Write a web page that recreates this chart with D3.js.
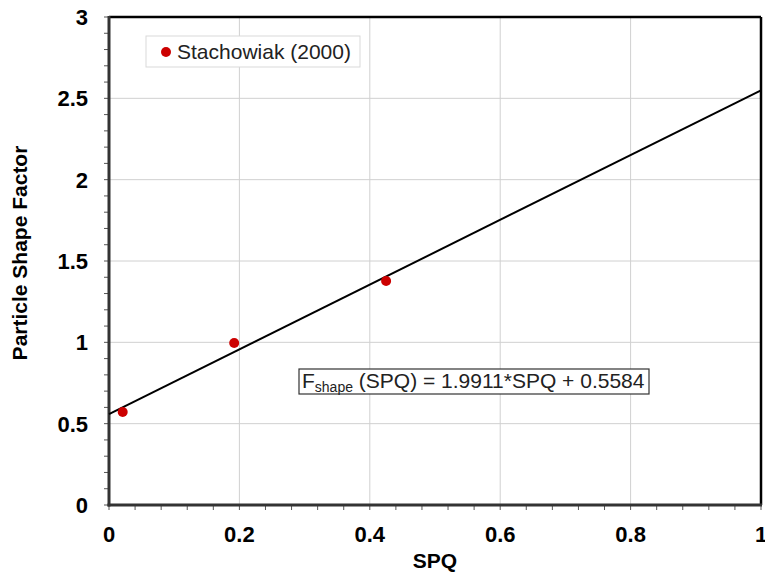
<!DOCTYPE html>
<html><head><meta charset="utf-8">
<script src="https://cdn.jsdelivr.net/npm/d3@7"></script>
<style>body{margin:0;background:#fff}svg{display:block}</style>
</head><body>
<svg id="c" width="765" height="575"></svg>
<script>
const spq = [0.021, 0.192, 0.425];
const shapeFactor = [0.572, 0.996, 1.377];
const seriesName = "Stachowiak (2000)";
const slope = 1.9911, intercept = 0.5584;
const xTicks = [0, 0.2, 0.4, 0.6, 0.8, 1];
const yTicks = [0, 0.5, 1, 1.5, 2, 2.5, 3];

const svg = d3.select("#c");
const L = 109, R = 761, T = 17, B = 505;
const x = d3.scaleLinear().domain([0, 1]).range([L, R]);
const y = d3.scaleLinear().domain([0, 3]).range([B, T]);
const FONT = "'Liberation Sans', Arial, sans-serif";

// gridlines
svg.append("g").selectAll("line").data(xTicks.slice(1, -1)).join("line")
  .attr("x1", d => x(d)).attr("x2", d => x(d)).attr("y1", T).attr("y2", B)
  .attr("stroke", "#d0d0d0").attr("stroke-width", 1);
svg.append("g").selectAll("line").data(yTicks.slice(1, -1)).join("line")
  .attr("y1", d => y(d)).attr("y2", d => y(d)).attr("x1", L).attr("x2", R)
  .attr("stroke", "#d0d0d0").attr("stroke-width", 1);

// minor ticks
const xMinor = d3.range(0, 1.0001, 0.04);
const yMinor = d3.range(0, 3.0001, 0.1);
svg.append("g").selectAll("line").data(xMinor).join("line")
  .attr("x1", d => x(d)).attr("x2", d => x(d)).attr("y1", B).attr("y2", B + 5)
  .attr("stroke", "#555").attr("stroke-width", 1);
svg.append("g").selectAll("line").data(yMinor).join("line")
  .attr("y1", d => y(d)).attr("y2", d => y(d)).attr("x1", L - 5).attr("x2", L)
  .attr("stroke", "#555").attr("stroke-width", 1);

// frame
svg.append("line").attr("x1", L).attr("x2", R).attr("y1", T).attr("y2", T).attr("stroke", "#000").attr("stroke-width", 2.5);
svg.append("line").attr("x1", R).attr("x2", R).attr("y1", T).attr("y2", B).attr("stroke", "#000").attr("stroke-width", 2.5);
svg.append("line").attr("x1", L).attr("x2", L).attr("y1", T - 1).attr("y2", B + 1.5).attr("stroke", "#333").attr("stroke-width", 3);
svg.append("line").attr("x1", L - 1.5).attr("x2", R + 1).attr("y1", B).attr("y2", B).attr("stroke", "#333").attr("stroke-width", 3);

// tick labels
svg.append("g").selectAll("text").data(xTicks).join("text")
  .attr("x", d => x(d)).attr("y", B + 37).attr("text-anchor", "middle")
  .style("font", `bold 22px ${FONT}`).attr("fill", "#000")
  .text(d => d3.format("")(d));
svg.append("g").selectAll("text").data(yTicks).join("text")
  .attr("x", L - 21).attr("y", d => y(d) + 8).attr("text-anchor", "end")
  .style("font", `bold 22px ${FONT}`).attr("fill", "#000")
  .text(d => d3.format("")(d));

// axis titles
svg.append("text").attr("x", 435).attr("y", 568).attr("text-anchor", "middle")
  .style("font", `bold 21px ${FONT}`).text("SPQ");
svg.append("text").attr("transform", `translate(27,253) rotate(-90)`).attr("text-anchor", "middle")
  .style("font", `bold 21px ${FONT}`).text("Particle Shape Factor");

// fit line
svg.append("line").attr("x1", x(0)).attr("y1", y(intercept)).attr("x2", x(1)).attr("y2", y(slope + intercept))
  .attr("stroke", "#000").attr("stroke-width", 2);

// points
svg.append("g").selectAll("circle").data(spq.map((v, i) => [v, shapeFactor[i]])).join("circle")
  .attr("cx", d => x(d[0])).attr("cy", d => y(d[1])).attr("r", 5).attr("fill", "#cc0000");

// legend
svg.append("rect").attr("x", 146).attr("y", 36).attr("width", 214).attr("height", 31)
  .attr("fill", "#fff").attr("stroke", "#d9d9d9").attr("stroke-width", 1);
svg.append("circle").attr("cx", 166).attr("cy", 52).attr("r", 5).attr("fill", "#cc0000");
svg.append("text").attr("x", 177).attr("y", 59).style("font", `21px ${FONT}`).attr("fill", "#222").text(seriesName);

// equation box
svg.append("rect").attr("x", 299).attr("y", 369).attr("width", 350).attr("height", 25)
  .attr("fill", "#fff").attr("stroke", "#333").attr("stroke-width", 1.2);
const eq = svg.append("text").attr("x", 302).attr("y", 388).style("font", `21px ${FONT}`).attr("fill", "#222");
eq.append("tspan").text("F");
eq.append("tspan").attr("dy", 4).style("font-size", "14px").text("shape");
eq.append("tspan").attr("dy", -4).text(" (SPQ) = " + slope + "*SPQ + " + intercept);
</script>
</body></html>
